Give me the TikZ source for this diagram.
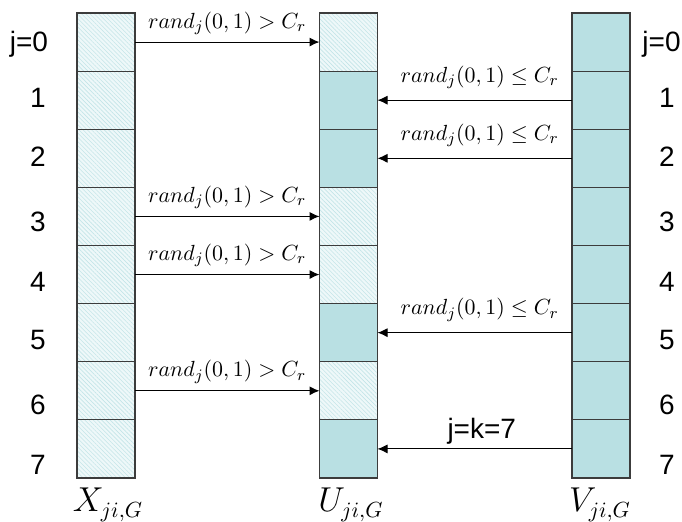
\documentclass[tikz,border=0pt]{standalone}
\usepackage{fontspec}
\newfontfamily\arialfam{Liberation Sans}
\usetikzlibrary{patterns.meta,arrows.meta}
\definecolor{cellfill}{RGB}{185,224,227}
\definecolor{hatchbg}{RGB}{238,248,249}
\definecolor{hatchln}{RGB}{196,229,232}
\definecolor{cellborder}{RGB}{60,60,60}
\begin{document}
\begin{tikzpicture}[x=0.5pt,y=-0.5pt,
  cell/.style={draw=cellborder, line width=0.6pt, minimum width=29pt, minimum height=29.06pt, inner sep=0pt, outer sep=0pt},
  solidcell/.style={cell, fill=cellfill},
  hatchcell/.style={cell, preaction={fill=hatchbg}, pattern={Lines[angle=-45,distance=1.5pt,line width=0.3pt]}, pattern color=hatchln},
  conn/.style={-{Latex[length=5pt,width=4.5pt]}, line width=0.5pt},
  condr/.style={font=\fontsize{11}{13}\selectfont, inner sep=0pt, anchor=south, yshift=3.5pt},
  condl/.style={font=\fontsize{11}{13}\selectfont, inner sep=0pt, anchor=south, yshift=5.5pt, xshift=2.5pt},
  idx/.style={font=\arialfam\fontsize{14}{16}\selectfont},
  colname/.style={font=\fontsize{16}{19}\selectfont, anchor=base}]
\useasboundingbox (0,0) rectangle (682,522);

% columns
\foreach \i in {0,...,7}
  \node[hatchcell] (x\i) at (106,{42.06+58.125*\i}) {};
\foreach \i/\s in {0/hatchcell,1/solidcell,2/solidcell,3/hatchcell,4/hatchcell,5/solidcell,6/hatchcell,7/solidcell}
  \node[\s] (u\i) at (348.5,{42.06+58.125*\i}) {};
\foreach \i in {0,...,7}
  \node[solidcell] (v\i) at (601,{42.06+58.125*\i}) {};

% index labels
\node[idx] (l0) at (29,44) {j=0};
\node[idx, anchor=east, inner sep=0pt] (r0) at (681,44) {j=0};
\foreach \i/\y in {1/98,2/157,3/222,4/282,5/340,6/405,7/465} {
  \node[idx] (l\i) at (38,\y) {\i};
  \node[idx] (r\i) at (667,\y) {\i};
}

% connectors X -> U
\foreach \i in {0,3,4,6}
  \draw[conn] (x\i.east) -- node[condr, midway] (cx\i) {$rand_j(0,1) > C_r$} (u\i.west);
% connectors V -> U
\foreach \i in {1,2,5}
  \draw[conn] (v\i.west) -- node[condl, midway] (cv\i) {$rand_j(0,1) \leq C_r$} (u\i.east);
\draw[conn] (v7.west) -- node[idx, midway, anchor=south, yshift=2pt, xshift=3.5pt, inner sep=0pt] (cv7) {j=k=7} (u7.east);

% column names
\node[colname] (xn) at (108,512) {$X_{ji,G}$};
\node[colname] (un) at (351,512) {$U_{ji,G}$};
\node[colname] (vn) at (600,512) {$V_{ji,G}$};
\end{tikzpicture}
\end{document}
